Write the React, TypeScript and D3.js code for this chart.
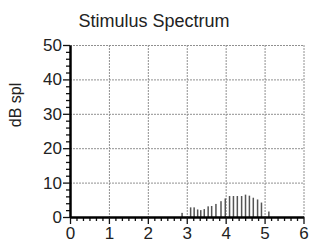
import React, { useEffect, useRef } from 'react';
import * as d3 from 'd3';

// stimulus spectrum, freq in kHz, level in dB spl
const freqs = [2.88, 3.1, 3.19, 3.28, 3.36, 3.45, 3.55, 3.64, 3.75, 3.88, 3.99, 4.1, 4.2, 4.3, 4.41, 4.51, 4.61, 4.71, 4.82, 4.92, 5.11];
const levels = [1.2, 2.8, 2.8, 2.2, 2.0, 2.3, 3.1, 3.2, 3.8, 4.6, 5.4, 6.1, 6.1, 6.1, 6.1, 6.5, 6.2, 5.6, 5.1, 4.2, 1.6];
const xTicks = [0, 1, 2, 3, 4, 5, 6];
const yTicks = [0, 10, 20, 30, 40, 50];

const W = 311;
const H = 248;

const App: React.FC = () => {
  const ref = useRef<SVGSVGElement>(null);

  useEffect(() => {
    if (!ref.current) return;
    const svg = d3.select(ref.current);
    svg.selectAll('*').remove();

    const x = d3.scaleLinear().domain([0, 6]).range([70, 303.5]);
    const y = d3.scaleLinear().domain([0, 50]).range([217, 45]);
    const font = 'Liberation Sans, Arial, sans-serif';

    // grid
    const grid = svg.append('g').attr('stroke', '#909090').attr('stroke-width', 1).attr('stroke-dasharray', '2,1');
    grid.selectAll('.gx')
      .data(xTicks.slice(1))
      .enter()
      .append('line')
      .attr('x1', (d) => x(d) + 0.5)
      .attr('x2', (d) => x(d) + 0.5)
      .attr('y1', y(50))
      .attr('y2', y(0));
    grid.selectAll('.gy')
      .data(yTicks.slice(1))
      .enter()
      .append('line')
      .attr('x1', x(0))
      .attr('x2', x(6))
      .attr('y1', (d) => y(d) + 0.5)
      .attr('y2', (d) => y(d) + 0.5);

    // spectrum lines
    svg.append('g')
      .selectAll('rect')
      .data(freqs.map((f, i) => ({ f, v: levels[i] })))
      .enter()
      .append('rect')
      .attr('x', (d) => x(d.f) - 0.75)
      .attr('width', 1.5)
      .attr('y', (d) => y(d.v))
      .attr('height', (d) => y(0) - y(d.v))
      .attr('fill', '#555');

    // minor ticks
    const xMinor = d3.range(0, 36).map((i) => i / 6).filter((_, i) => i % 6 !== 0);
    svg.append('g')
      .attr('transform', `translate(0,${y(0)})`)
      .call(d3.axisBottom(x).tickValues(xMinor).tickSize(4).tickSizeOuter(0).tickFormat(() => ''))
      .call((g) => g.select('.domain').remove())
      .selectAll('line').attr('stroke', '#111').attr('stroke-width', 1.3);

    const yMinor = d3.range(0, 52, 2).filter((d) => d % 10 !== 0);
    svg.append('g')
      .attr('transform', `translate(${x(0)},0)`)
      .call(d3.axisLeft(y).tickValues(yMinor).tickSize(4).tickSizeOuter(0).tickFormat(() => ''))
      .call((g) => g.select('.domain').remove())
      .selectAll('line').attr('stroke', '#111').attr('stroke-width', 1.3);

    // major axes
    const xAxis = svg.append('g')
      .attr('transform', `translate(0,${y(0)})`)
      .call(d3.axisBottom(x).tickValues(xTicks).tickSize(7).tickSizeOuter(0).tickPadding(3).tickFormat(d3.format('d')));
    xAxis.select('.domain').attr('stroke', '#000').attr('stroke-width', 2.5);
    xAxis.selectAll('line').attr('stroke', '#111').attr('stroke-width', 1.3);
    xAxis.selectAll('text').attr('font-family', font).attr('font-size', 17).attr('fill', '#222');

    const yAxis = svg.append('g')
      .attr('transform', `translate(${x(0)},0)`)
      .call(d3.axisLeft(y).tickValues(yTicks).tickSize(7).tickSizeOuter(0).tickPadding(1).tickFormat(d3.format('d')));
    yAxis.select('.domain').attr('stroke', '#000').attr('stroke-width', 2.5);
    yAxis.selectAll('line').attr('stroke', '#111').attr('stroke-width', 1.3);
    yAxis.selectAll('text').attr('font-family', font).attr('font-size', 17).attr('fill', '#222');

    // labels
    svg.append('text')
      .attr('x', 154)
      .attr('y', 27)
      .attr('text-anchor', 'middle')
      .attr('font-family', font)
      .attr('font-size', 18)
      .attr('fill', '#222')
      .text('Stimulus Spectrum');

    svg.append('text')
      .attr('transform', `translate(21,${(y(0) + y(50)) / 2 - 26}) rotate(-90)`)
      .attr('text-anchor', 'middle')
      .attr('font-family', font)
      .attr('font-size', 16)
      .attr('fill', '#222')
      .text('dB spl');
  }, []);

  return (
    <svg
      ref={ref}
      width={W}
      height={H}
      style={{ position: 'absolute', left: 0, top: 0, background: '#fff' }}
    ></svg>
  );
};

export default App;
